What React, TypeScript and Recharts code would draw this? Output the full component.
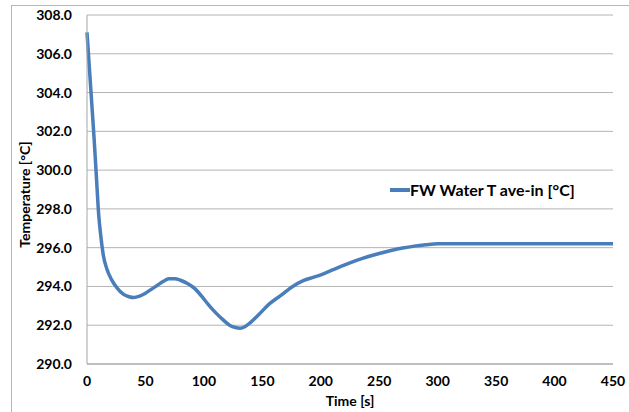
import React from "react";
import { LineChart, Line, XAxis, YAxis, CartesianGrid, Label } from "recharts";

// Feed-water average inlet temperature over the transient
const timeS = [
  0, 2, 4, 6, 8, 10, 12, 14, 17, 21, 26, 31, 36, 40, 45, 50, 55, 60, 65, 70, 75, 80, 86, 92,
  98, 104, 110, 116, 122, 127, 131, 135, 140, 147, 156, 165, 176, 185, 194, 200, 210, 220, 230,
  240, 250, 260, 270, 280, 290, 300, 325, 350, 375, 400, 425, 450,
];
const waterTempC = [
  307.1, 305.3, 303.5, 301.7, 299.7, 297.7, 296.5, 295.6, 294.9, 294.35, 293.9, 293.6, 293.47,
  293.43, 293.5, 293.65, 293.85, 294.05, 294.25, 294.4, 294.4, 294.32, 294.15, 293.9, 293.5,
  293.05, 292.65, 292.3, 292.0, 291.88, 291.85, 291.92, 292.15, 292.55, 293.1, 293.5, 294.0,
  294.3, 294.48, 294.6, 294.85, 295.1, 295.33, 295.53, 295.7, 295.85, 295.98, 296.08, 296.15,
  296.2, 296.2, 296.2, 296.2, 296.2, 296.2, 296.2,
];
const xTicks = [0, 50, 100, 150, 200, 250, 300, 350, 400, 450];
const yTicks = [290, 292, 294, 296, 298, 300, 302, 304, 306, 308];
const seriesName = "FW Water T ave-in [°C]";

const data = timeS.map((t, i) => ({ t, temp: waterTempC[i] }));

const FONT = "Lato, 'Liberation Sans', sans-serif";
const LINE_COLOR = "#4a7ebb";
const tickStyle = { fontFamily: FONT, fontWeight: 700, fontSize: 14, fill: "#000" };

const YTitle = (props: any) => {
  const { viewBox } = props;
  const cx = 24;
  const cy = viewBox.y + viewBox.height / 2 + 5;
  return (
    <text
      x={cx}
      y={cy}
      transform={`rotate(-90, ${cx}, ${cy})`}
      textAnchor="middle"
      dominantBaseline="central"
      style={{ fontFamily: FONT, fontWeight: 700, fontSize: 14, fill: "#000" }}
    >
      Temperature [°C]
    </text>
  );
};

export default function App() {
  return (
    <div style={{ position: "absolute", left: 0, top: 0, width: 629, height: 412, background: "#fff", overflow: "hidden" }}>
      <div
        style={{
          position: "absolute",
          left: 11,
          top: 5,
          width: 640,
          height: 420,
          borderLeft: "1px solid #b7b7b7",
          borderTop: "1px solid #b7b7b7",
        }}
      />
      <LineChart
        width={629}
        height={412}
        data={data}
        margin={{ top: 15, right: 16, bottom: 4, left: 27 }}
        style={{ position: "absolute", left: 0, top: 0 }}
      >
        <CartesianGrid vertical={false} stroke="#b4b4b4" strokeWidth={1} />
        <XAxis
          dataKey="t"
          type="number"
          domain={[0, 450]}
          ticks={xTicks}
          interval={0}
          height={44}
          tickLine={false}
          tickSize={0}
          tickMargin={12}
          axisLine={{ stroke: "#a6a6a6" }}
          tick={tickStyle}
        >
          <Label
            value="Time [s]"
            position="insideBottom"
            offset={2}
            style={{ fontFamily: FONT, fontWeight: 700, fontSize: 14, fill: "#000" }}
          />
        </XAxis>
        <YAxis
          type="number"
          domain={[290, 308]}
          ticks={yTicks}
          interval={0}
          width={60}
          tickLine={false}
          tickSize={0}
          tickMargin={15}
          axisLine={{ stroke: "#a6a6a6" }}
          tick={tickStyle}
          tickFormatter={(v: number) => v.toFixed(1)}
        >
          <Label content={<YTitle />} />
        </YAxis>
        <Line
          type="monotone"
          dataKey="temp"
          name={seriesName}
          stroke={LINE_COLOR}
          strokeWidth={3.5}
          dot={false}
          activeDot={false}
          isAnimationActive={false}
        />
      </LineChart>
      {/* series key */}
      <div
        style={{
          position: "absolute",
          left: 390,
          top: 180,
          display: "flex",
          alignItems: "center",
          fontFamily: FONT,
          fontWeight: 700,
          fontSize: 16,
          color: "#000",
          lineHeight: "20px",
        }}
      >
        <span style={{ display: "inline-block", width: 20, height: 4, background: LINE_COLOR }} />
        <span>{seriesName}</span>
      </div>
    </div>
  );
}
